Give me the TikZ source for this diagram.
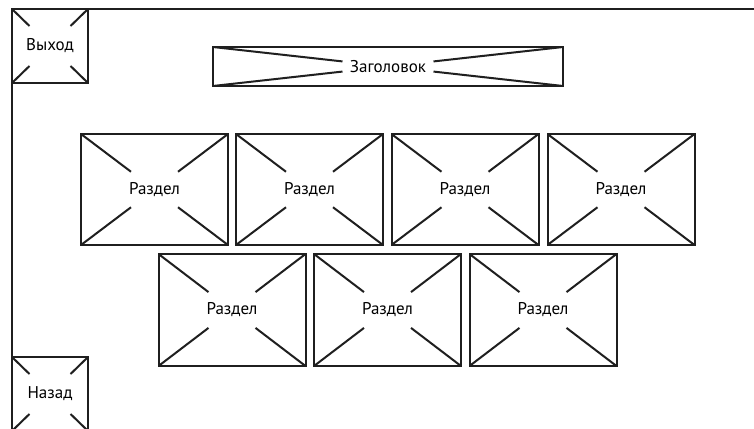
\documentclass[tikz,border=0pt]{standalone}
\usepackage{fontspec}
\setmainfont{PT Sans}
\usetikzlibrary{calc}
\begin{document}
\begin{tikzpicture}[x=1pt,y=1pt,
  ln/.style={line width=2pt, draw=black!88},
  crossbox/.style={ln, rectangle, inner sep=0pt, font=\fontsize{17}{20}\selectfont,
    path picture={
      \draw[ln] (path picture bounding box.north west) -- ($(path picture bounding box.north west)!#1!(path picture bounding box.south east)$);
      \draw[ln] (path picture bounding box.south east) -- ($(path picture bounding box.south east)!#1!(path picture bounding box.north west)$);
      \draw[ln] (path picture bounding box.north east) -- ($(path picture bounding box.north east)!#1!(path picture bounding box.south west)$);
      \draw[ln] (path picture bounding box.south west) -- ($(path picture bounding box.south west)!#1!(path picture bounding box.north east)$);
    }},
  section/.style={crossbox=0.34, minimum width=147pt, minimum height=111pt},
  corner/.style={crossbox=0.23, minimum width=76pt, minimum height=74pt}
]
\useasboundingbox (0,0) rectangle (754,-428);
\fill[white] (0,0) rectangle (754,-428);
\clip (0,0) rectangle (754,-428);
% frame
\coordinate (fb) at (12,-440);
\coordinate (ftl) at (12,-9);
\coordinate (fr) at (760,-9);
\draw[ln] (fb) -- (ftl) -- (fr);
% corner buttons
\node[corner] (exit) at (50,-46) {Выход};
\node[corner] (back) at (50,-394) {Назад};
% title
\node[crossbox=0.37, minimum width=350pt, minimum height=39pt] (title) at (388,-66.5) {Заголовок};
% row 1
\node[section] (s1) at (154.5,-189.5) {Раздел};
\node[section] (s2) at (309.5,-189.5) {Раздел};
\node[section] (s3) at (465,-189.5) {Раздел};
\node[section] (s4) at (621,-189.5) {Раздел};
% row 2
\node[section, minimum height=112pt] (s5) at (232,-310) {Раздел};
\node[section, minimum height=112pt] (s6) at (387.5,-310) {Раздел};
\node[section, minimum height=112pt] (s7) at (543,-310) {Раздел};
\end{tikzpicture}
\end{document}
